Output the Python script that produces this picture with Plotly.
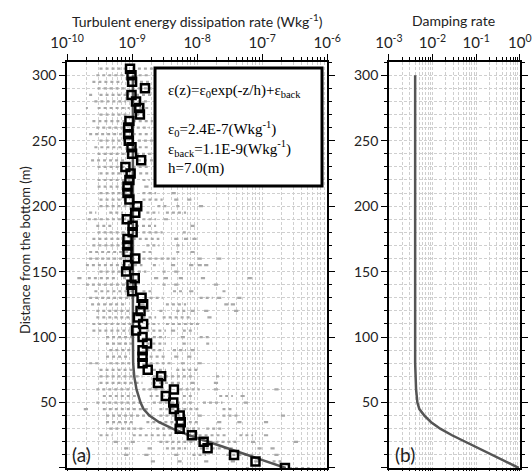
import plotly.graph_objects as go

# mean dissipation rate (open squares), one value every 5 m from the bottom
z_mean = list(range(0, 310, 5))
eps_mean = [2.24e-7, 7.9e-8, 3.7e-8, 1.45e-8, 1.26e-8, 8.3e-9, 5.4e-9, 5.6e-9, 5.4e-9, 4.4e-9,
            4.3e-9, 3.3e-9, 4.4e-9, 2.5e-9, 2.8e-9, 1.74e-9, 1.45e-9, 1.45e-9, 1.45e-9, 1.7e-9,
            1.45e-9, 1.15e-9, 1.48e-9, 1.23e-9, 1.35e-9, 1.48e-9, 1.4e-9, 1.0e-9, 9.8e-10, 1.1e-9,
            8.1e-10, 8.7e-10, 1.12e-9, 8.5e-10, 8.5e-10, 8.5e-10, 1.02e-9, 1.02e-9, 8.3e-10, 1.12e-9,
            1.2e-9, 9.1e-10, 8.5e-10, 8.5e-10, 9.1e-10, 9.5e-10, 7.9e-10, 1.38e-9, 1.0e-9, 9.8e-10,
            8.9e-10, 8.7e-10, 8.7e-10, 9.1e-10, 1.32e-9, 1.29e-9, 1.15e-9, 9.8e-10, 1.58e-9, 1.0e-9,
            9.8e-10, 9.3e-10]

# fitted profile eps(z) = eps0 exp(-z/h) + eps_back
z_fit = [0, 5, 10, 15, 20, 25, 30, 35, 40, 45, 50, 55, 60, 70, 80, 100, 300]
eps_fit = [2.3e-7, 1.15e-7, 5.6e-8, 2.8e-8, 1.4e-8, 7.5e-9, 4.2e-9, 2.6e-9, 1.85e-9, 1.5e-9,
           1.35e-9, 1.25e-9, 1.17e-9, 1.08e-9, 1.04e-9, 1.03e-9, 1.03e-9]

# damping rate profile (panel b)
z_damp = [0, 5, 10, 15, 20, 25, 30, 35, 40, 45, 50, 60, 80, 300]
damp = [0.95, 0.47, 0.24, 0.11, 0.055, 0.028, 0.015, 0.0093, 0.0065, 0.005, 0.0045, 0.0042,
        0.004, 0.004]

# tick labels
eps_ticks = [1e-10, 1e-9, 1e-8, 1e-7, 1e-6]
eps_ticktext = ["10<sup>-10</sup>", "10<sup>-9</sup>", "10<sup>-8</sup>", "10<sup>-7</sup>",
                "10<sup>-6</sup>"]
damp_ticks = [1e-3, 1e-2, 1e-1, 1e0]
damp_ticktext = ["10<sup>-3</sup>", "10<sup>-2</sup>", "10<sup>-1</sup>", "10<sup>0</sup>"]

# individual estimates (grey marks): per depth, clusters as [log10 lo, log10 hi]
gray_z = [305, 300, 295, 290, 285, 280, 275, 270, 265, 260, 255, 250, 245, 240, 235, 230, 225,
          220, 215, 210, 205, 200, 195, 190, 185, 180, 175, 170, 165, 160, 155, 150, 145, 140,
          135, 130, 125, 120, 115, 110, 105, 100, 95, 90, 85, 80, 75, 70, 65, 60, 55, 50, 45,
          40, 35, 30, 25, 20, 15, 10, 5, 0]
gray_ranges = [
    [[-9.50, -9.09], [-8.91, -8.68]],
    [[-9.55, -9.12], [-8.99, -8.71]],
    [[-9.61, -9.14], [-8.97, -8.73]],
    [[-9.53, -9.07], [-8.91, -8.71]],
    [[-9.66, -9.61], [-9.50, -9.04], [-8.94, -8.68]],
    [[-9.58, -9.09], [-8.91, -8.73]],
    [[-9.71, -9.68], [-9.53, -9.04], [-8.89, -8.71]],
    [[-9.50, -9.07], [-8.94, -8.76]],
    [[-9.61, -9.12], [-8.99, -8.68]],
    [[-9.55, -9.14], [-9.02, -8.73]],
    [[-9.66, -9.09], [-8.99, -8.71]],
    [[-9.50, -9.04], [-8.91, -8.68]],
    [[-9.58, -9.12], [-8.99, -8.73]],
    [[-9.53, -9.07], [-8.94, -8.71]],
    [[-9.63, -9.09], [-8.91, -8.68]],
    [[-9.53, -9.12], [-8.99, -8.73]],
    [[-9.50, -9.12], [-8.89, -8.73]],
    [[-9.53, -8.99], [-8.84, -8.73]],
    [[-9.53, -9.09], [-8.78, -8.78]],
    [[-9.50, -8.99], [-8.84, -8.63], [-8.36, -8.36]],
    [[-9.50, -9.04], [-8.84, -8.53], [-8.32, -8.32], [-8.12, -8.12]],
    [[-9.50, -8.99], [-8.61, -8.43], [-8.32, -8.27], [-7.94, -7.94]],
    [[-9.66, -9.55], [-9.35, -9.14], [-8.78, -8.58], [-8.48, -8.17]],
    [[-9.68, -9.09], [-8.84, -8.63], [-8.48, -8.48]],
    [[-9.55, -9.30], [-8.94, -8.63], [-8.07, -8.07]],
    [[-9.53, -9.04], [-8.84, -8.53], [-8.22, -8.12]],
    [[-9.61, -9.14], [-8.99, -8.58], [-8.32, -8.32], [-8.17, -8.17], [-8.04, -8.04]],
    [[-9.61, -8.99], [-8.78, -8.58], [-8.32, -8.22]],
    [[-9.66, -8.99], [-8.84, -8.68], [-8.32, -8.27], [-8.07, -8.07]],
    [[-9.66, -9.09], [-8.84, -8.32], [-7.96, -7.96], [-7.66, -7.66]],
    [[-9.71, -8.84], [-8.68, -8.58], [-8.37, -8.37], [-8.09, -8.09], [-7.96, -7.96], [-7.86, -7.86]],
    [[-9.50, -9.09], [-8.91, -8.78], [-8.53, -8.48], [-8.32, -8.32]],
    [[-9.81, -9.81], [-9.68, -9.25], [-9.14, -9.07], [-8.63, -8.63], [-8.48, -8.48], [-8.25, -8.25],
     [-7.91, -7.91], [-7.19, -7.19]],
    [[-9.71, -8.99], [-8.53, -8.48], [-8.32, -8.32], [-7.71, -7.71]],
    [[-9.58, -8.99], [-8.84, -8.68], [-8.37, -8.22], [-8.09, -8.09], [-7.61, -7.55]],
    [[-9.66, -8.99], [-8.73, -8.53], [-7.96, -7.76], [-7.66, -7.66], [-7.35, -7.35]],
    [[-9.63, -9.09], [-8.84, -8.84], [-8.48, -8.17], [-7.55, -7.55], [-7.45, -7.45]],
    [[-9.55, -8.99], [-8.78, -8.73], [-8.58, -8.48], [-8.32, -8.17], [-8.07, -8.07], [-7.86, -7.86],
     [-7.40, -7.40]],
    [[-9.55, -8.99], [-8.84, -8.63], [-8.53, -8.07], [-7.81, -7.81]],
    [[-9.61, -8.99], [-8.78, -8.58], [-8.48, -7.96]],
    [[-9.61, -9.04], [-8.78, -8.48], [-8.37, -8.37], [-8.22, -8.07]],
    [[-9.40, -8.99], [-8.68, -8.48], [-8.22, -8.22], [-7.96, -7.81]],
    [[-9.40, -8.99], [-8.78, -8.48], [-8.22, -8.12], [-7.86, -7.76]],
    [[-9.35, -8.99], [-8.78, -8.53], [-8.37, -8.17], [-8.07, -8.07]],
    [[-9.40, -9.04], [-8.73, -8.48], [-8.32, -8.32], [-8.12, -8.12]],
    [[-9.66, -9.50], [-9.35, -8.99], [-8.73, -8.37], [-8.22, -8.22], [-7.96, -7.96]],
    [[-9.50, -8.99], [-8.68, -8.48], [-8.32, -7.96]],
    [[-9.50, -8.84], [-8.68, -8.07], [-7.71, -7.61]],
    [[-9.50, -8.84], [-8.68, -8.22], [-8.07, -8.07], [-7.71, -7.71]],
    [[-9.55, -8.99], [-8.84, -8.48], [-8.27, -7.96], [-7.71, -7.71], [-6.78, -6.78]],
    [[-9.45, -8.89], [-8.73, -8.43], [-8.22, -8.07], [-7.66, -7.45], [-7.30, -7.30]],
    [[-9.55, -8.84], [-8.68, -8.07], [-7.91, -7.61], [-7.25, -7.25]],
    [[-9.71, -9.71], [-9.45, -8.73], [-8.58, -7.96], [-7.61, -7.45]],
    [[-9.40, -8.68], [-8.58, -8.17], [-7.96, -7.96], [-7.61, -7.35], [-6.68, -6.68]],
    [[-9.40, -8.99], [-8.78, -8.32], [-8.22, -7.96], [-7.66, -7.66], [-7.35, -7.35], [-6.94, -6.94]],
    [[-9.35, -8.84], [-8.63, -7.96], [-7.86, -7.61]],
    [[-9.50, -9.30], [-8.99, -8.37], [-8.07, -7.55], [-7.35, -7.14], [-6.94, -6.94]],
    [[-9.25, -9.25], [-8.99, -8.99], [-8.58, -8.07], [-7.81, -7.35], [-7.14, -7.14], [-6.48, -6.48]],
    [[-9.09, -9.09], [-8.73, -8.73], [-8.48, -8.17], [-7.96, -7.45], [-7.04, -7.04], [-6.84, -6.84]],
    [[-9.09, -9.09], [-8.78, -8.78], [-8.32, -8.32], [-8.07, -7.86], [-7.55, -7.14], [-6.78, -6.78]],
    [[-8.68, -8.68], [-8.27, -8.27], [-7.86, -7.86], [-7.45, -7.45], [-7.09, -7.09], [-6.84, -6.68]],
    [[-7.25, -7.14], [-6.68, -6.27]],
]

GRAY = "#a9a9a9"
GRID = "#cfcfcf"
FONT = "Lato"

seg_x, seg_y, dot_x, dot_y = [], [], [], []
for z, ranges in zip(gray_z, gray_ranges):
    for lo, hi in ranges:
        if hi - lo < 0.02:
            dot_x.append(10 ** lo)
            dot_y.append(z)
        else:
            seg_x += [10 ** lo, 10 ** hi, None]
            seg_y += [z, z, None]

fig = go.Figure()
fig.add_trace(go.Scatter(x=seg_x, y=seg_y, mode="lines",
                         line=dict(color=GRAY, width=2.2, dash="3px,3px"),
                         xaxis="x", yaxis="y"))
fig.add_trace(go.Scatter(x=dot_x, y=dot_y, mode="markers",
                         marker=dict(symbol="line-ew", size=3, line=dict(color=GRAY, width=2.2)),
                         xaxis="x", yaxis="y"))
fig.add_trace(go.Scatter(x=eps_fit, y=z_fit, mode="lines",
                         line=dict(color="#555555", width=2.5), xaxis="x", yaxis="y"))
fig.add_trace(go.Scatter(x=eps_mean, y=z_mean, mode="markers",
                         marker=dict(symbol="square-open", size=8, color="black",
                                     line=dict(color="black", width=2.5)),
                         xaxis="x", yaxis="y"))
fig.add_trace(go.Scatter(x=damp, y=z_damp, mode="lines",
                         line=dict(color="#555555", width=2.5), xaxis="x2", yaxis="y2"))

xcommon = dict(type="log", side="top",
               ticks="outside", ticklen=6, tickcolor="black", mirror="allticks", showline=True,
               linecolor="black", linewidth=1.5, zeroline=False, automargin=False,
               tickfont=dict(family=FONT, size=15, color="#222"),
               showgrid=True, gridcolor=GRID, griddash="3px,2px", gridwidth=1,
               minor=dict(dtick="D1", ticks="outside", ticklen=3, tickcolor="black",
                          showgrid=True, gridcolor=GRID, griddash="3px,2px", gridwidth=1))
ycommon = dict(range=[0, 310], dtick=50, ticks="outside", ticklen=6, tickcolor="black",
               mirror="allticks", showline=True, linecolor="black", linewidth=1.5,
               zeroline=False, automargin=False,
               tickfont=dict(family=FONT, size=14, color="#222"),
               showgrid=True, gridcolor=GRID, griddash="3px,2px", gridwidth=1,
               minor=dict(dtick=10, ticks="outside", ticklen=3, tickcolor="black",
                          showgrid=True, gridcolor=GRID, griddash="3px,2px", gridwidth=1))

ydom = [0.0064, 0.868]
fig.update_layout(
    width=532, height=471, margin=dict(l=0, r=0, t=0, b=0, autoexpand=False),
    paper_bgcolor="white", plot_bgcolor="white", showlegend=False,
    xaxis=dict(range=[-10, -6], domain=[0.126, 0.615], anchor="y",
               tickvals=eps_ticks, ticktext=eps_ticktext, **xcommon),
    yaxis=dict(domain=ydom, anchor="x", **ycommon),
    xaxis2=dict(range=[-3, 0], domain=[0.731, 0.977], anchor="y2",
                tickvals=damp_ticks, ticktext=damp_ticktext, **xcommon),
    yaxis2=dict(domain=ydom, anchor="x2", **ycommon),
)

# inset with the fit parameters
fig.add_shape(type="rect", xref="paper", yref="paper", x0=0.2914, x1=0.6053, y0=0.6051, y1=0.8556,
              line=dict(color="black", width=3), fillcolor="white", layer="above")
fig.add_annotation(xref="paper", yref="paper", x=0.312, y=0.83, xanchor="left", yanchor="top",
                   align="left", showarrow=False,
                   font=dict(family="Liberation Serif", size=15, color="black"),
                   text="ε(z)=ε<sub>0</sub>exp(-z/h)+ε<sub>back</sub><br><br>"
                        "ε<sub>0</sub>=2.4E-7(Wkg<sup>-1</sup>)<br>"
                        "ε<sub>back</sub>=1.1E-9(Wkg<sup>-1</sup>)<br>h=7.0(m)")

label = dict(xref="paper", yref="paper", showarrow=False, xanchor="center", yanchor="middle")
fig.add_annotation(x=0.372, y=0.9575, font=dict(family=FONT, size=14, color="#222"),
                   text="Turbulent energy dissipation rate (Wkg<sup>-1</sup>)", **label)
fig.add_annotation(x=0.852, y=0.9575, font=dict(family=FONT, size=14, color="#222"),
                   text="Damping rate", **label)
fig.add_annotation(x=0.047, y=0.469, textangle=-90, font=dict(family=FONT, size=13, color="#222"),
                   text="Distance from the bottom (m)", **label)
fig.add_annotation(x=0.153, y=0.034, font=dict(family=FONT, size=19, color="#222"),
                   text="(a)", **label)
fig.add_annotation(x=0.761, y=0.034, font=dict(family=FONT, size=19, color="#222"),
                   text="(b)", **label)

fig.write_html("out.html", config={"displayModeBar": False},
               post_script="document.body.style.margin='0';")
